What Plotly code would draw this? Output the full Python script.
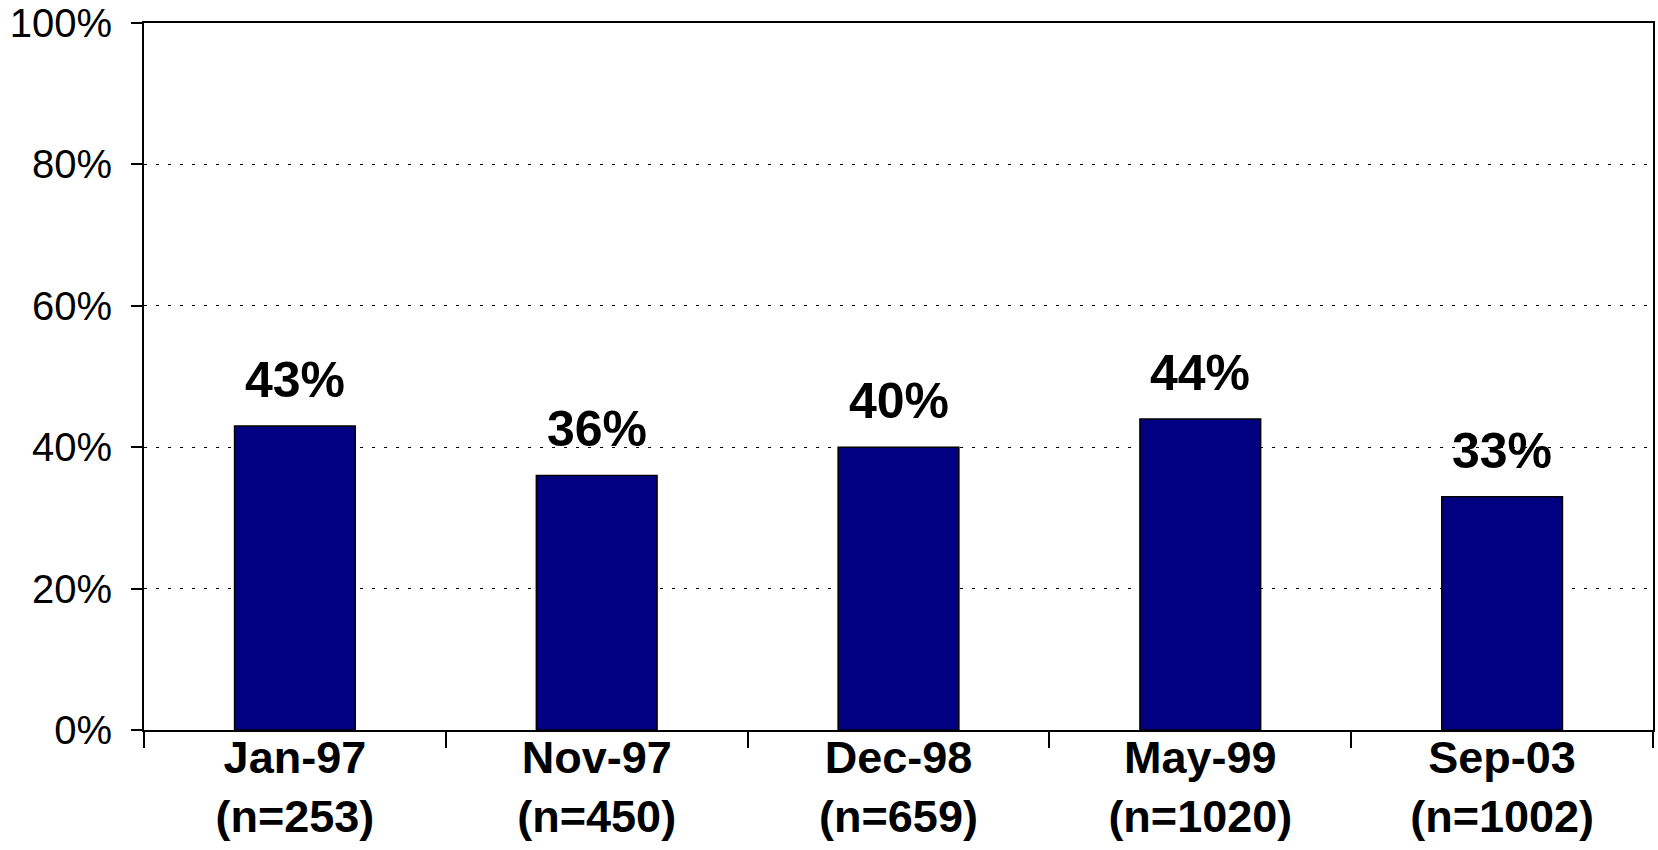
import plotly.graph_objects as go

categories = ["Jan-97", "Nov-97", "Dec-98", "May-99", "Sep-03"]
sample_sizes = ["n=253", "n=450", "n=659", "n=1020", "n=1002"]
values = [43, 36, 40, 44, 33]
y_ticks = [0, 20, 40, 60, 80, 100]

x_labels = [f"{c}<br>({n})" for c, n in zip(categories, sample_sizes)]

BOLD = "Liberation Sans, Arial, sans-serif"

fig = go.Figure()
fig.add_trace(go.Bar(
    x=x_labels,
    y=values,
    marker=dict(color="#000080", line=dict(color="black", width=1.5)),
    width=0.4,
    hoverinfo="skip",
))

for xl, v in zip(x_labels, values):
    fig.add_annotation(
        x=xl, y=v, text=f"{v}%", showarrow=False,
        yanchor="bottom", yshift=16,
        font=dict(family=BOLD, size=50, color="black", weight=700),
    )

fig.update_layout(
    width=1658, height=850,
    margin=dict(l=144, r=5, t=23, b=120, autoexpand=False),
    paper_bgcolor="white", plot_bgcolor="white",
    showlegend=False,
)

fig.update_xaxes(
    automargin=False,
    showline=True, linecolor="black", linewidth=2, mirror=True,
    ticks="outside", ticklen=16, tickwidth=1.5, tickcolor="black",
    tickson="boundaries",
    ticklabelstandoff=-13,
    tickfont=dict(family=BOLD, size=45, color="black", weight=700),
    showgrid=False,
)
fig.update_yaxes(
    automargin=False,
    range=[0, 100], tickvals=y_ticks, ticktext=[f"{t}%" for t in y_ticks],
    showline=True, linecolor="black", linewidth=2, mirror=True,
    ticks="outside", ticklen=11, tickwidth=1.5, tickcolor="black",
    ticklabelstandoff=11,
    tickfont=dict(family="Liberation Sans, Arial, sans-serif", size=40, color="black"),
    showgrid=True, gridcolor="black", gridwidth=1, griddash="3px,9px",
    zeroline=False,
)

fig.write_html(
    "out.html",
    config={"displayModeBar": False},
    post_script="document.body.style.margin='0px';document.body.style.overflow='hidden';",
)
